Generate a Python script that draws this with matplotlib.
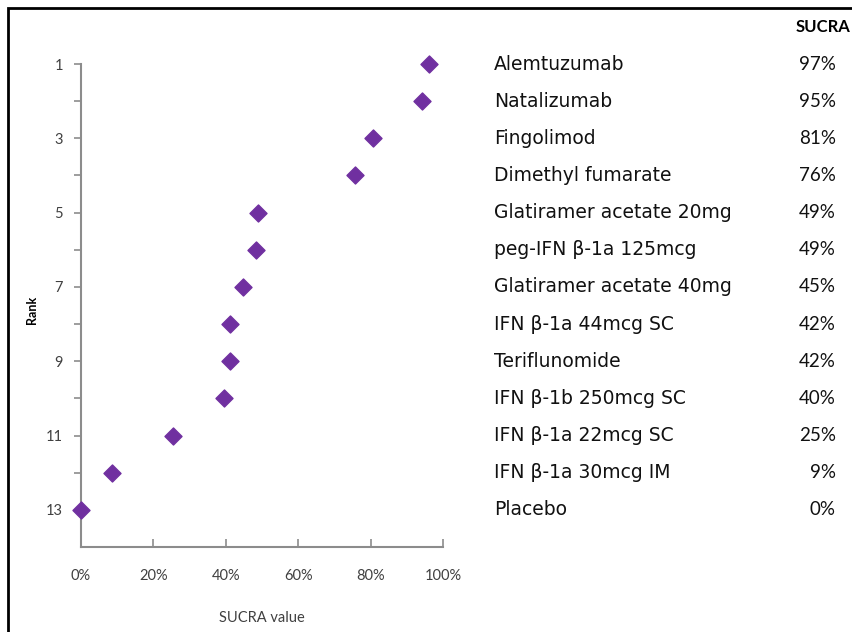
import matplotlib.pyplot as plt
from matplotlib.patches import Rectangle
from matplotlib.transforms import blended_transform_factory

plt.rcParams["font.family"] = ["Lato", "DejaVu Sans"]

treatments = [
    "Alemtuzumab", "Natalizumab", "Fingolimod", "Dimethyl fumarate",
    "Glatiramer acetate 20mg", "peg-IFN β-1a 125mcg", "Glatiramer acetate 40mg",
    "IFN β-1a 44mcg SC", "Teriflunomide", "IFN β-1b 250mcg SC",
    "IFN β-1a 22mcg SC", "IFN β-1a 30mcg IM", "Placebo",
]
ranks = list(range(1, 14))
sucra = [0.96, 0.942, 0.807, 0.757, 0.489, 0.484, 0.447, 0.412, 0.412,
         0.395, 0.254, 0.086, 0.0]
sucra_labels = ["97%", "95%", "81%", "76%", "49%", "49%", "45%", "42%",
                "42%", "40%", "25%", "9%", "0%"]

PURPLE = "#7030A0"
GREY = "#8c8c8c"
TICK_TXT = "#404040"

fig = plt.figure(figsize=(8.53, 6.32), dpi=100)
ax = fig.add_axes([81 / 853, 1 - 547 / 632, 362 / 853, 483 / 632])

ax.scatter(sucra, ranks, marker="D", s=75, color=PURPLE, zorder=3, clip_on=False)

ax.set_xlim(0, 1)
ax.set_ylim(14, 1)
ax.set_xticks([0, 0.2, 0.4, 0.6, 0.8, 1.0])
ax.set_xticklabels(["0%", "20%", "40%", "60%", "80%", "100%"])
ax.set_yticks(ranks)
ax.set_yticklabels([str(r) if r % 2 == 1 else "" for r in ranks])

for side in ["top", "right"]:
    ax.spines[side].set_visible(False)
for side in ["left", "bottom"]:
    ax.spines[side].set_color(GREY)
    ax.spines[side].set_linewidth(1.5)

ax.tick_params(axis="x", direction="in", length=6, width=1.2, color=GREY,
               labelsize=10.5, labelcolor=TICK_TXT, pad=16)
ax.tick_params(axis="y", direction="out", length=5, width=1.2, color=GREY,
               labelsize=10.5, labelcolor=TICK_TXT, pad=8)

ax.set_xlabel("SUCRA value", fontsize=10.5, color=TICK_TXT, labelpad=20)
fig.text(32 / 853, 1 - 310 / 632, "Rank", rotation=90, fontsize=9,
         fontweight="bold", ha="center", va="center")

# table of names and SUCRA values on the right
trans = blended_transform_factory(fig.transFigure, ax.transData)
for name, rank, lab in zip(treatments, ranks, sucra_labels):
    ax.text(494 / 853, rank, name, transform=trans, fontsize=13.5,
            family=["DejaVu Sans"],
            ha="left", va="center", color="#111111", clip_on=False)
    ax.text(836 / 853, rank, lab, transform=trans, fontsize=13.5,
            ha="right", va="center", color="#111111", clip_on=False)
fig.text(850 / 853, 1 - 27 / 632, "SUCRA", fontsize=12, fontweight="bold",
         ha="right", va="center")

# outer frame (left and top edges visible)
fig.patches.append(Rectangle((8 / 853, -0.1), 1.2, 1 - 8 / 632 + 0.1,
                             transform=fig.transFigure, fill=False,
                             edgecolor="black", linewidth=2))

fig.savefig("out.png", dpi=100)
